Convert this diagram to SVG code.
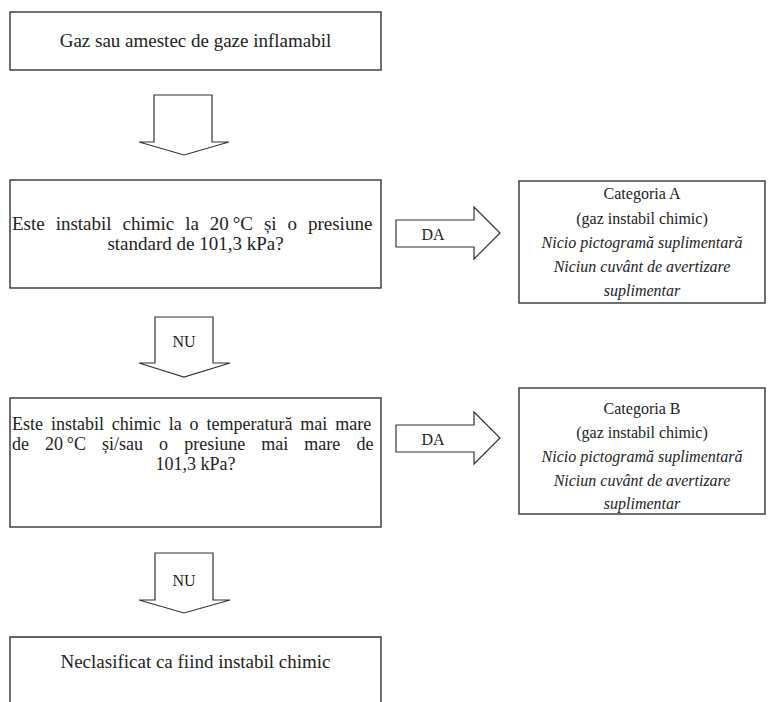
<svg xmlns="http://www.w3.org/2000/svg" width="776" height="702" viewBox="0 0 776 702">
<style>
.box{fill:#fff;stroke:#333;stroke-width:1.4}
.arr{fill:#fff;stroke:#333;stroke-width:1.2;stroke-linejoin:miter}
.t{font-family:"Liberation Serif","Times New Roman",serif;font-size:19px;fill:#222}
.s{font-size:18px}
.c{text-anchor:middle}
.r{font-family:"Liberation Serif","Times New Roman",serif;font-size:16px;fill:#222;text-anchor:middle}
.i{font-style:italic}
.lbl{font-family:"Liberation Serif","Times New Roman",serif;font-size:16px;fill:#222;text-anchor:middle}
</style>
<rect width="776" height="702" fill="#fff"/>
<g id="connectors">
  <g id="arrow-start">
    <polygon class="arr" points="154,95 212,95 212,142 229,142 184,155 139,142 154,142"/>
  </g>
  <g id="arrow-nu-1">
    <polygon class="arr" points="155,317 213,317 213,363 230,363 184,377 139,363 155,363"/>
    <text class="lbl" x="184" y="347">NU</text>
  </g>
  <g id="arrow-nu-2">
    <polygon class="arr" points="155,553 213,553 213,600 230,600 184,613 139,600 155,600"/>
    <text class="lbl" x="184" y="586">NU</text>
  </g>
  <g id="arrow-da-1">
    <polygon class="arr" points="396,220 474,220 474,207 500,233 474,259 474,247 396,247"/>
    <text class="lbl" x="433" y="240">DA</text>
  </g>
  <g id="arrow-da-2">
    <polygon class="arr" points="396,425 474,425 474,412 500,438 474,464 474,452 396,452"/>
    <text class="lbl" x="433" y="445">DA</text>
  </g>
</g>
<g id="node-start">
  <rect class="box" x="10" y="12" width="371" height="58"/>
  <text class="t c" x="195.5" y="47">Gaz sau amestec de gaze inflamabil</text>
</g>
<g id="node-q1">
  <rect class="box" x="10" y="180" width="371" height="108"/>
  <text class="t" x="12" y="230" word-spacing="6.2">Este instabil chimic la 20&#8201;°C și o presiune</text>
  <text class="t c" x="195.5" y="250">standard de 101,3 kPa?</text>
</g>
<g id="node-q2">
  <rect class="box" x="10" y="398" width="371" height="129"/>
  <text class="t s" x="12" y="430" word-spacing="3.4">Este instabil chimic la o temperatură mai mare</text>
  <text class="t s" x="12" y="450" word-spacing="11.6">de 20&#8201;°C și/sau o presiune mai mare de</text>
  <text class="t s c" x="195.5" y="470">101,3 kPa?</text>
</g>
<g id="node-none">
  <path class="box" d="M10,702 V637 H381 V702" fill="none"/>
  <text class="t c" x="195.5" y="668">Neclasificat ca fiind instabil chimic</text>
</g>
<g id="node-cat-a">
  <rect class="box" x="519" y="181" width="246" height="122"/>
  <text class="r" x="642" y="199">Categoria A</text>
  <text class="r" x="642" y="224">(gaz instabil chimic)</text>
  <text class="r i" x="642" y="248">Nicio pictogramă suplimentară</text>
  <text class="r i" x="642" y="272">Niciun cuvânt de avertizare</text>
  <text class="r i" x="642" y="296">suplimentar</text>
</g>
<g id="node-cat-b">
  <rect class="box" x="519" y="388" width="246" height="126"/>
  <text class="r" x="642" y="414">Categoria B</text>
  <text class="r" x="642" y="438">(gaz instabil chimic)</text>
  <text class="r i" x="642" y="462">Nicio pictogramă suplimentară</text>
  <text class="r i" x="642" y="486">Niciun cuvânt de avertizare</text>
  <text class="r i" x="642" y="509">suplimentar</text>
</g>
</svg>
